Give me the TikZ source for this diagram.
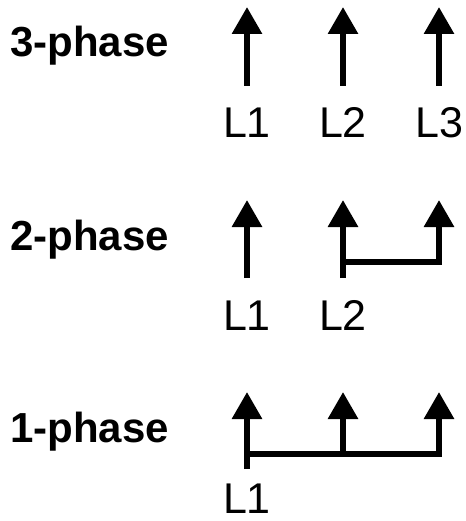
\documentclass[tikz,border=0pt]{standalone}
\usepackage{fontspec}
\setmainfont{Liberation Sans}
\usetikzlibrary{arrows.meta, positioning}

\begin{document}
\begin{tikzpicture}[x=1pt, y=-1pt, >={Triangle[length=27pt, width=29pt]}]

\tikzset{
    phase/.style={
        anchor=base west, inner sep=0pt,
        font=\fontsize{42}{42}\selectfont\bfseries
    },
    line/.style={
        anchor=base, inner sep=0pt,
        font=\fontsize{43}{43}\selectfont
    },
    wire/.style={
        draw=black, line width=6pt
    },
    feed/.style={
        wire, ->
    }
}

% Fix the page size
\useasboundingbox (0,0) rectangle (465,521);

% --- 3-PHASE ---
\node[phase] (P3) at (10, 57) {3-phase};

\coordinate (A1) at (247, 86);  \coordinate (T1) at (247, 7);
\coordinate (A2) at (343, 86);  \coordinate (T2) at (343, 7);
\coordinate (A3) at (439, 86);  \coordinate (T3) at (439, 7);
\draw[feed] (A1) -- (T1);
\draw[feed] (A2) -- (T2);
\draw[feed] (A3) -- (T3);

\node[line] (L1a) at (247, 138) {L1};
\node[line] (L2a) at (343, 138) {L2};
\node[line] (L3a) at (439, 138) {L3};

% --- 2-PHASE ---
\node[phase] (P2) at (10, 250) {2-phase};

\coordinate (B1) at (247, 278);  \coordinate (U1) at (247, 200);
\coordinate (B2) at (343, 278);  \coordinate (U2) at (343, 200);
\coordinate (J2) at (343, 262);  \coordinate (J3) at (439, 262);
\coordinate (U3) at (439, 200);
\draw[feed] (B1) -- (U1);
\draw[feed] (B2) -- (U2);
\draw[feed] (J2) -- (J3) -- (U3);

\node[line] (L1b) at (247, 330) {L1};
\node[line] (L2b) at (343, 330) {L2};

% --- 1-PHASE ---
\node[phase] (P1) at (10, 442) {1-phase};

\coordinate (C1) at (247, 469);  \coordinate (V1) at (247, 392);
\coordinate (K1) at (247, 454);  \coordinate (K2) at (343, 454);
\coordinate (K3) at (439, 454);
\coordinate (V2) at (343, 392);  \coordinate (V3) at (439, 392);
\draw[feed] (C1) -- (V1);
\draw[feed] (K2) -- (V2);
\draw[feed] (K1) -- (K3) -- (V3);

\node[line] (L1c) at (247, 513) {L1};

\end{tikzpicture}
\end{document}
